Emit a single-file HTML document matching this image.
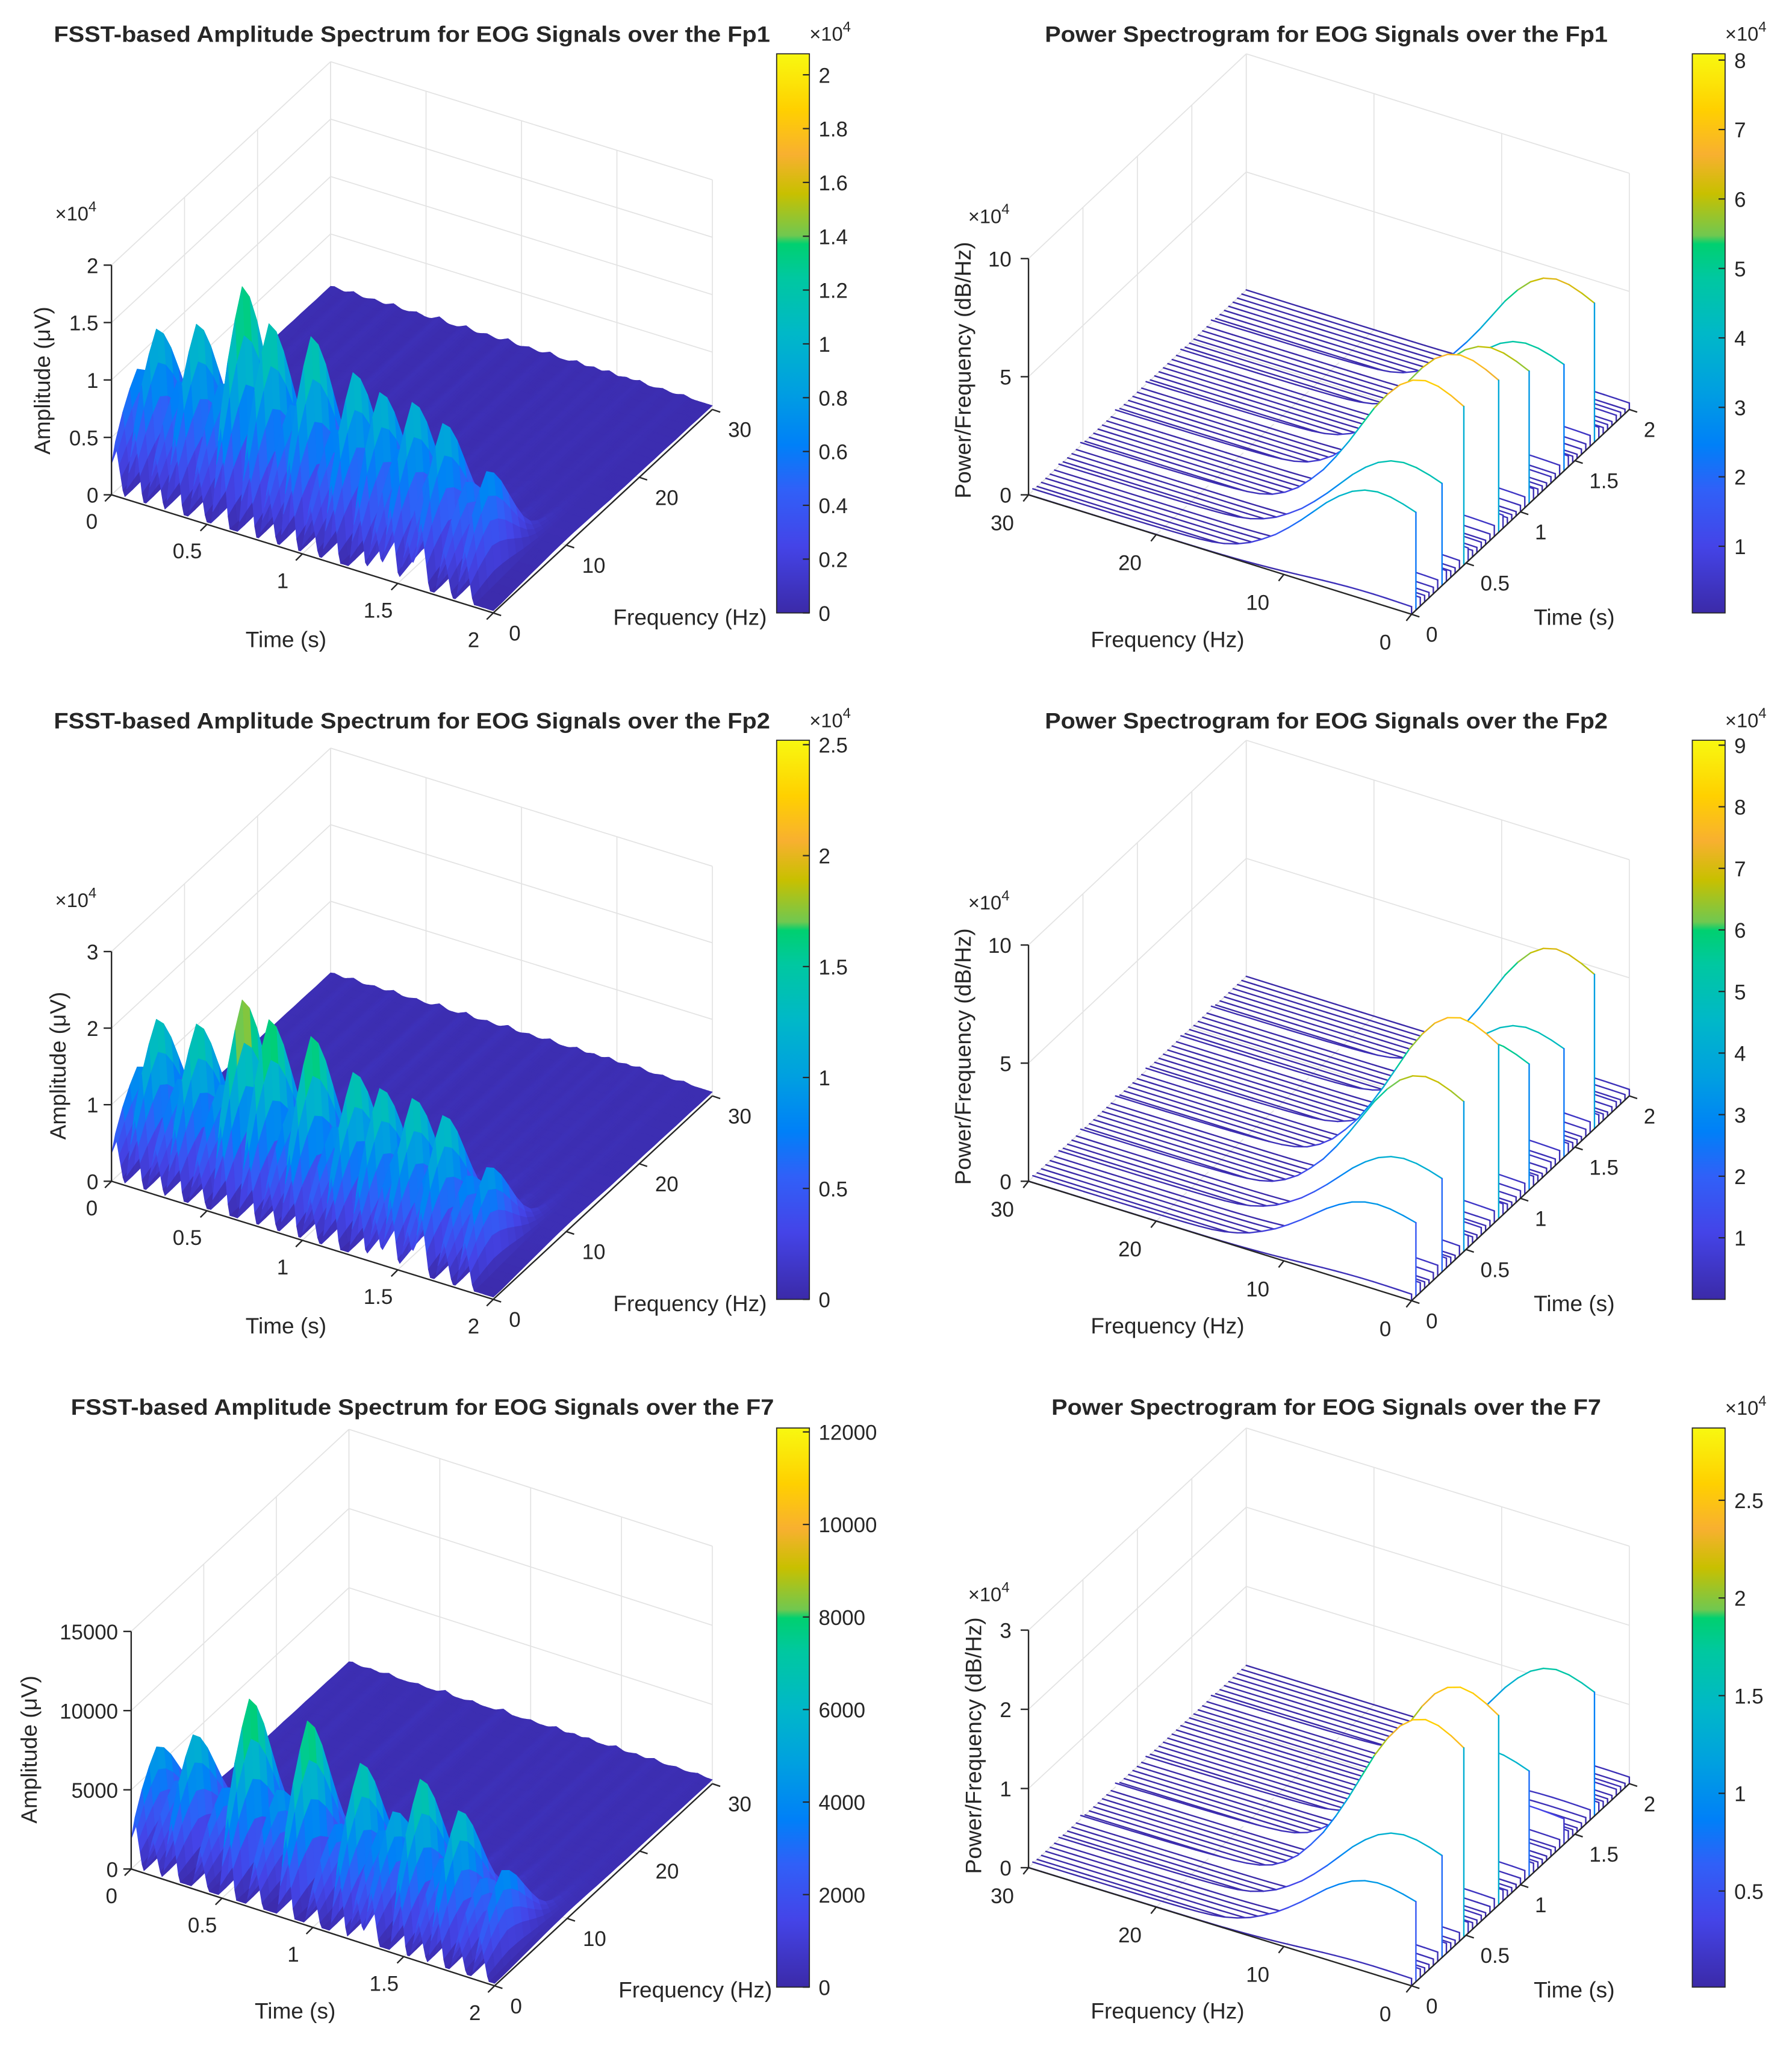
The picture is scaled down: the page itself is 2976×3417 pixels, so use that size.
<!DOCTYPE html>
<html>
<head>
<meta charset="utf-8">
<style>
html,body{margin:0;padding:0;background:#fff;}
svg{display:block;}
text{font-family:"Liberation Sans",Arial,sans-serif;fill:#262626;}
</style>
</head>
<body>
<svg id="chart" xmlns="http://www.w3.org/2000/svg" width="2976" height="3417" viewBox="0 0 1366 1568" preserveAspectRatio="none">
<rect x="0" y="0" width="1366" height="1568" fill="#ffffff"/>
<defs>
<linearGradient id="parula" x1="0" y1="1" x2="0" y2="0">
<stop offset="0" stop-color="#3b2aa8"/><stop offset="0.12" stop-color="#4444e8"/><stop offset="0.22" stop-color="#3060f8"/><stop offset="0.3" stop-color="#0080f8"/><stop offset="0.4" stop-color="#00a0e0"/><stop offset="0.5" stop-color="#00b8c8"/><stop offset="0.6" stop-color="#00c8a0"/><stop offset="0.66" stop-color="#00d070"/><stop offset="0.675" stop-color="#70c850"/><stop offset="0.75" stop-color="#c8c000"/><stop offset="0.82" stop-color="#f8b030"/><stop offset="0.9" stop-color="#ffd000"/><stop offset="1" stop-color="#f8f810"/>
</linearGradient>
</defs>
</svg>
<script>
// ---------- data ----------
const fp1SpikeTimes = [0.02,0.12,0.23,0.33,0.45,0.57,0.71,0.82,0.93,1.04,1.15,1.29,1.38,1.46,1.55,1.62,1.74,1.85];
const fp1SpikeHeights = [9000,13000,9000,14500,10000,19000,16500,10000,16500,9000,14500,13500,9000,13500,8000,12500,8000,9500];
const fp2SpikeTimes = [0.02,0.12,0.23,0.33,0.45,0.57,0.71,0.82,0.93,1.04,1.15,1.29,1.38,1.46,1.55,1.62,1.74,1.85];
const fp2SpikeHeights = [12000,19000,12000,20000,13000,25000,23500,13000,23000,12000,20000,19000,12000,19000,11000,18000,11000,13000];
const f7SpikeTimes = [0.02,0.12,0.22,0.38,0.53,0.68,0.85,1.0,1.14,1.24,1.32,1.47,1.58,1.68,1.8,1.92];
const f7SpikeHeights = [6300,4500,7800,5000,11200,6000,11000,5000,9400,5500,7000,9600,5000,8400,4500,5500];
const fsstFreqProfile = [0.5,0.72,0.88,1.0,0.92,0.78,0.6,0.42,0.26,0.15,0.09,0.06,0.04,0.03,0.025,0.02,0.02,0.02,0.02,0.02,0.02,0.02,0.02,0.02,0.02,0.02,0.02,0.02,0.02,0.02,0.02];
const fsstBaseProfile = [0.01,0.01,0.012,0.014,0.016,0.018,0.02,0.022,0.024,0.025,0.026,0.026,0.025,0.024,0.023,0.022,0.021,0.021,0.02,0.02,0.02,0.02,0.019,0.019,0.019,0.018,0.018,0.018,0.017,0.017,0.017];
const fp1BaseLevel = 20000, fp2BaseLevel = 30000, f7BaseLevel = 15000;

const psdFreqShape = [0.92,0.96,0.99,1.0,0.98,0.93,0.85,0.75,0.63,0.51,0.40,0.30,0.22,0.15,0.10,0.065,0.045,0.035,0.03,0.027,0.025,0.023,0.022,0.021,0.02,0.02,0.019,0.019,0.018,0.018,0.018];
const fp1PsdAmps = [0.35,4.5,0.4,0.3,0.25,0.3,0.45,4.7,0.5,0.3,0.25,0.4,7.3,0.6,0.3,0.25,0.3,0.2,0.3,0.5,7.0,0.6,0.3,0.25,0.2,0.3,0.5,6.1,0.5,0.3,0.25,0.2,0.3,0.25,0.45,4.9,0.5,0.3,0.2,0.25,0.3,0.5,6.4,0.5,0.3,0.25,0.2,0.3,0.25,0.2,0.3];
const fp2PsdAmps = [0.3,3.4,0.45,0.3,0.2,0.35,0.5,4.3,0.45,0.3,0.2,0.45,6.9,0.55,0.3,0.2,0.35,0.25,0.3,0.55,8.0,0.5,0.3,0.2,0.25,0.35,0.5,5.8,0.45,0.3,0.2,0.25,0.35,0.3,0.5,5.0,0.45,0.3,0.25,0.2,0.35,0.5,7.1,0.45,0.3,0.2,0.25,0.3,0.2,0.25,0.3];
const f7PsdAmps = [0.1,1.1,0.12,0.08,0.07,0.09,0.13,1.4,0.14,0.09,0.07,0.12,2.6,0.15,0.09,0.07,0.08,0.06,0.09,0.14,2.6,0.15,0.09,0.07,0.06,0.09,0.14,1.45,0.13,0.09,0.07,0.06,0.09,0.07,0.12,0.35,0.13,0.09,0.06,0.07,0.09,0.14,1.7,0.13,0.09,0.07,0.06,0.09,0.07,0.06,0.09];

// ---------- helpers ----------
const NS='http://www.w3.org/2000/svg';
const svg=document.getElementById('chart');
function mk(tag,attrs,parent){const e=document.createElementNS(NS,tag);for(const k in attrs)e.setAttribute(k,attrs[k]);(parent||svg).appendChild(e);return e;}
const cmapPos=[0,0.12,0.22,0.3,0.4,0.5,0.6,0.66,0.675,0.75,0.82,0.9,1];
const cmapCol=[[59,42,168],[68,68,232],[48,96,248],[0,128,248],[0,160,224],[0,184,200],[0,200,160],[0,208,112],[112,200,80],[200,192,0],[248,176,48],[255,208,0],[248,248,16]];
function cmap(u){u=Math.max(0,Math.min(1,u));let i=0;while(i<cmapPos.length-2&&u>cmapPos[i+1])i++;const a=cmapPos[i],b=cmapPos[i+1];const s=(u-a)/(b-a);const c=cmapCol[i].map((v,k)=>Math.round(v+(cmapCol[i+1][k]-v)*s));return 'rgb('+c.join(',')+')';}
function projector(cfg){return (t,f,v)=>[cfg.O[0]+cfg.Tv[0]*t+cfg.Fv[0]*f, cfg.O[1]+cfg.Tv[1]*t+cfg.Fv[1]*f-v*cfg.zs];}
function line(g,a,b,stroke,w){return mk('line',{x1:a[0].toFixed(2),y1:a[1].toFixed(2),x2:b[0].toFixed(2),y2:b[1].toFixed(2),stroke:stroke,'stroke-width':w},g);}
function txt(g,x,y,s,anchor,size,extra){const e=mk('text',Object.assign({x:x,y:y,'text-anchor':anchor||'start','font-size':size||16},extra||{}),g);e.textContent=s;return e;}
function expLabel(g,x,y){const e=mk('text',{x:x,y:y,'font-size':15},g);e.textContent='\u00d710';const s=mk('tspan',{dy:-7,'font-size':11},e);s.textContent='4';return e;}
const tTicks=[0,0.5,1,1.5,2], fTicks=[0,10,20,30];

function drawBox(g,cfg,P,kind){
  const G='#e3e3e3';
  const gridG=mk('g',{},g);
  
  
  const tw = kind==='A'?0:2;
  fTicks.forEach(f=>line(gridG,P(tw,f,0),P(tw,f,cfg.zMax),G,0.8));
  cfg.zTicks.forEach(z=>line(gridG,P(tw,0,z),P(tw,30,z),G,0.8));
  tTicks.forEach(t=>line(gridG,P(t,30,0),P(t,30,cfg.zMax),G,0.8));
  cfg.zTicks.forEach(z=>line(gridG,P(0,30,z),P(2,30,z),G,0.8));
  tTicks.forEach(t=>line(gridG,P(t,0,0),P(t,30,0),G,0.8));
  fTicks.forEach(f=>line(gridG,P(0,f,0),P(2,f,0),G,0.8));
}
function drawAxes(g,cfg,P,kind){
  const A='#262626';
  const ax=mk('g',{},g);
  
  
  const zBase = kind==='A'?[0,0]:[0,30];
  line(ax,P(zBase[0],zBase[1],0),P(zBase[0],zBase[1],cfg.zMax),A,1.1);
  cfg.zTicks.forEach((z,i)=>{const p=P(zBase[0],zBase[1],z);line(ax,p,[p[0]-6,p[1]],A,1.1);
    const l=txt(ax,p[0]-(kind==='A'?10:13),p[1]+6,cfg.zLabels[i],'end');
    
    });
  if(kind==='A'){
    line(ax,P(0,0,0),P(2,0,0),A,1.1);
    line(ax,P(2,0,0),P(2,30,0),A,1.1);
    tTicks.forEach(t=>{const p=P(t,0,0);line(ax,p,[p[0]-5,p[1]+5],A,1.1);
      const l=txt(ax,p[0]-15,p[1]+26,String(t),'middle');
      
      });
    fTicks.forEach(f=>{const p=P(2,f,0);line(ax,p,[p[0]+6,p[1]+2],A,1.1);
      const l=txt(ax,p[0]+12,p[1]+21,String(f),'start');
      
      });
  } else {
    line(ax,P(0,30,0),P(0,0,0),A,1.1);
    line(ax,P(0,0,0),P(2,0,0),A,1.1);
    fTicks.forEach(f=>{const p=P(0,f,0);line(ax,p,[p[0]-4,p[1]+5],A,1.1);
      const l=txt(ax,p[0]-20,p[1]+27,String(f),'middle');
      
      });
    tTicks.forEach(t=>{const p=P(t,0,0);line(ax,p,[p[0]+6,p[1]+2],A,1.1);
      const l=txt(ax,p[0]+11,p[1]+21,String(t),'start');
      
      });
  }
}
function drawColorbar(g,cfg){
  const cb=mk('g',{},g);
  
  
  const x=cfg.cbx, w=25, y0=cfg.cby[0], y1=cfg.cby[1];
  const r=mk('rect',{x:x,y:y0,width:w,height:y1-y0,fill:'url(#parula)',stroke:'#262626','stroke-width':0.8},cb);
  
  
  cfg.cbTicks.forEach((v,i)=>{const y=y1-(v-cfg.cmin)/(cfg.cmax-cfg.cmin)*(y1-y0);
    line(cb,[x+w-5,y],[x+w,y],'#262626',1);
    const l=txt(cb,x+w+7,y+6,cfg.cbLabels[i],'start');
    
    });
  if(cfg.cbExp){const e=expLabel(cb,x+25,y0-10);
    
    }
}
function drawTitle(g,cfg){
  const t=txt(g,cfg.titleX,cfg.titleY+6,cfg.title,'middle',17,{'font-weight':'bold',fill:'#000',textLength:cfg.titleW,lengthAdjust:'spacingAndGlyphs'});
  
  
}

// ---------- FSST surface panel ----------
function drawFsst(cfg,spikeT,spikeH,baseLevel){
  const g=mk('g',{});
  
  
  const P=projector(cfg);
  drawTitle(g,cfg);
  drawBox(g,cfg,P,'A');
  const nt=200, dt=2/nt, nf=fsstFreqProfile.length;
  const W=0.045;
  const val=(ti,fi)=>{const t=ti*dt;let v=fsstBaseProfile[fi]*baseLevel;
    for(let k=0;k<spikeT.length;k++){const d=Math.abs(t-spikeT[k]);if(d<W)v+=spikeH[k]*(1-d/W)*fsstFreqProfile[fi];}
    return v;};
  const V=[];for(let i=0;i<=nt;i++){V.push([]);for(let j=0;j<nf;j++)V[i].push(val(i,j));}
  const quads=[];
  for(let i=0;i<nt;i++)for(let j=0;j<nf-1;j++){
    const key=cfg.Tv[1]*(i+0.5)*dt+cfg.Fv[1]*(j+0.5);
    quads.push([key,i,j]);}
  quads.sort((a,b)=>a[0]-b[0]);
  const sg=mk('g',{'stroke-linejoin':'round'},g);
  
  
  quads.forEach(q=>{const i=q[1],j=q[2];
    const pts=[P(i*dt,j,V[i][j]),P((i+1)*dt,j,V[i+1][j]),P((i+1)*dt,j+1,V[i+1][j+1]),P(i*dt,j+1,V[i][j+1])];
    const m=(V[i][j]+V[i+1][j]+V[i+1][j+1]+V[i][j+1])/4*0.8;
    const c=cmap((m-cfg.cmin)/(cfg.cmax-cfg.cmin));
    const p=mk('polygon',{points:pts.map(p=>p[0].toFixed(1)+','+p[1].toFixed(1)).join(' '),fill:c,stroke:c,'stroke-width':0.4},sg);
    
    
  });
  drawAxes(g,cfg,P,'A');
  drawColorbar(g,cfg);
  const a1=txt(g,cfg.timeTitle[0],cfg.timeTitle[1],'Time (s)','middle',17);
  
  
  const a2=txt(g,cfg.freqTitle[0],cfg.freqTitle[1],'Frequency (Hz)','middle',17);
  
  
  const a3=txt(g,0,0,'Amplitude (\u03bcV)','middle',17,{transform:'translate('+cfg.zTitle[0]+','+cfg.zTitle[1]+') rotate(-90)'});
  
  
  if(cfg.exp){const e=expLabel(g,cfg.expPos[0],cfg.expPos[1]);
    
    }
}

// ---------- Power spectrogram waterfall panel ----------
function drawPsd(cfg,amps){
  const g=mk('g',{});
  
  
  const P=projector(cfg);
  drawTitle(g,cfg);
  drawBox(g,cfg,P,'B');
  const n=amps.length, nf=psdFreqShape.length;
  const wg=mk('g',{'stroke-linecap':'round'},g);
  
  
  for(let i=n-1;i>=0;i--){
    const t=i*2/(n-1);
    const vals=psdFreqShape.map(s=>s*amps[i]*1e4);
    const pts=[];for(let f=nf-1;f>=0;f--)pts.push(P(t,f,vals[f]));
    const poly=[P(t,nf-1,0)].concat(pts,[P(t,0,0)]);
    const fillp=mk('polygon',{points:poly.map(p=>p[0].toFixed(1)+','+p[1].toFixed(1)).join(' '),fill:'#ffffff',stroke:'none'},wg);
    
    
    for(let f=nf-1;f>0;f--){
      const v=(vals[f]+vals[f-1])/2;
      const s=line(wg,P(t,f,vals[f]),P(t,f-1,vals[f-1]),cmap((v-cfg.cmin)/(cfg.cmax-cfg.cmin)),1.1);
      
      
    }
    const d=line(wg,P(t,0,vals[0]),P(t,0,0),cmap((vals[0]*0.55-cfg.cmin)/(cfg.cmax-cfg.cmin)),1.1);
    
    
  }
  drawAxes(g,cfg,P,'B');
  drawColorbar(g,cfg);
  const a1=txt(g,cfg.timeTitle[0],cfg.timeTitle[1],'Time (s)','middle',17);
  
  
  const a2=txt(g,cfg.freqTitle[0],cfg.freqTitle[1],'Frequency (Hz)','middle',17);
  
  
  const a3=txt(g,0,0,'Power/Frequency (dB/Hz)','middle',17,{transform:'translate('+cfg.zTitle[0]+','+cfg.zTitle[1]+') rotate(-90)'});
  
  
  const e=expLabel(g,cfg.expPos[0],cfg.expPos[1]);
  
  
}

// ---------- panel configs ----------
const tick2k=[0,2000,4000,6000,8000,10000,12000,14000,16000,18000,20000];
drawFsst({name:'fsst-fp1-panel',O:[85,377],Tv:[145.5,45],Fv:[5.567,-5.167],zs:87.5/1e4,zMax:20000,
  zTicks:[0,5000,10000,15000,20000],zLabels:['0','0.5','1','1.5','2'],exp:true,expPos:[42,168],
  cmin:0,cmax:20780,cbTicks:tick2k,cbLabels:['0','0.2','0.4','0.6','0.8','1','1.2','1.4','1.6','1.8','2'],cbExp:true,cbx:592,cby:[41,467],
  title:'FSST-based Amplitude Spectrum for EOG Signals over the Fp1',titleX:314,titleY:26,titleW:546,
  timeTitle:[218,493],freqTitle:[526,476],zTitle:[38,290]},fp1SpikeTimes,fp1SpikeHeights,fp1BaseLevel);
drawFsst({name:'fsst-fp2-panel',O:[85,900],Tv:[145.5,45],Fv:[5.567,-5.167],zs:175/30000,zMax:30000,
  zTicks:[0,10000,20000,30000],zLabels:['0','1','2','3'],exp:true,expPos:[42,691],
  cmin:0,cmax:25200,cbTicks:[0,5000,10000,15000,20000,25000],cbLabels:['0','0.5','1','1.5','2','2.5'],cbExp:true,cbx:592,cby:[564,990],
  title:'FSST-based Amplitude Spectrum for EOG Signals over the Fp2',titleX:314,titleY:549,titleW:546,
  timeTitle:[218,1016],freqTitle:[526,999],zTitle:[50,812]},fp2SpikeTimes,fp2SpikeHeights,fp2BaseLevel);
drawFsst({name:'fsst-f7-panel',O:[100,1424],Tv:[138.5,44.5],Fv:[5.533,-5.133],zs:181/15000,zMax:15000,
  zTicks:[0,5000,10000,15000],zLabels:['0','5000','10000','15000'],exp:false,
  cmin:0,cmax:12085,cbTicks:[0,2000,4000,6000,8000,10000,12000],cbLabels:['0','2000','4000','6000','8000','10000','12000'],cbExp:false,cbx:592,cby:[1088,1514],
  title:'FSST-based Amplitude Spectrum for EOG Signals over the F7',titleX:322,titleY:1072,titleW:536,
  timeTitle:[225,1538],freqTitle:[530,1522],zTitle:[28,1333]},f7SpikeTimes,f7SpikeHeights,f7BaseLevel);

drawPsd({name:'psd-fp1-panel',O:[1076,468],Tv:[83,-78],Fv:[-9.733,-3.033],zs:180/1e5,zMax:1e5,
  zTicks:[0,50000,100000],zLabels:['0','5','10'],expPos:[738,170],
  cmin:400,cmax:80900,cbTicks:[10000,20000,30000,40000,50000,60000,70000,80000],cbLabels:['1','2','3','4','5','6','7','8'],cbExp:true,cbx:1290,cby:[41,467],
  title:'Power Spectrogram for EOG Signals over the Fp1',titleX:1011,titleY:26,titleW:429,
  timeTitle:[1200,476],freqTitle:[890,493],zTitle:[740,282]},fp1PsdAmps);
drawPsd({name:'psd-fp2-panel',O:[1076,991],Tv:[83,-78],Fv:[-9.733,-3.033],zs:180/1e5,zMax:1e5,
  zTicks:[0,50000,100000],zLabels:['0','5','10'],expPos:[738,693],
  cmin:0,cmax:90800,cbTicks:[10000,20000,30000,40000,50000,60000,70000,80000,90000],cbLabels:['1','2','3','4','5','6','7','8','9'],cbExp:true,cbx:1290,cby:[564,990],
  title:'Power Spectrogram for EOG Signals over the Fp2',titleX:1011,titleY:549,titleW:429,
  timeTitle:[1200,999],freqTitle:[890,1016],zTitle:[740,805]},fp2PsdAmps);
drawPsd({name:'psd-f7-panel',O:[1076,1513],Tv:[83,-77],Fv:[-9.733,-3.0],zs:181/3e4,zMax:3e4,
  zTicks:[0,10000,20000,30000],zLabels:['0','1','2','3'],expPos:[738,1220],
  cmin:80,cmax:28700,cbTicks:[5000,10000,15000,20000,25000],cbLabels:['0.5','1','1.5','2','2.5'],cbExp:true,cbx:1290,cby:[1088,1514],
  title:'Power Spectrogram for EOG Signals over the F7',titleX:1011,titleY:1072,titleW:419,
  timeTitle:[1200,1522],freqTitle:[890,1538],zTitle:[748,1330]},f7PsdAmps);
</script>
</body>
</html>
